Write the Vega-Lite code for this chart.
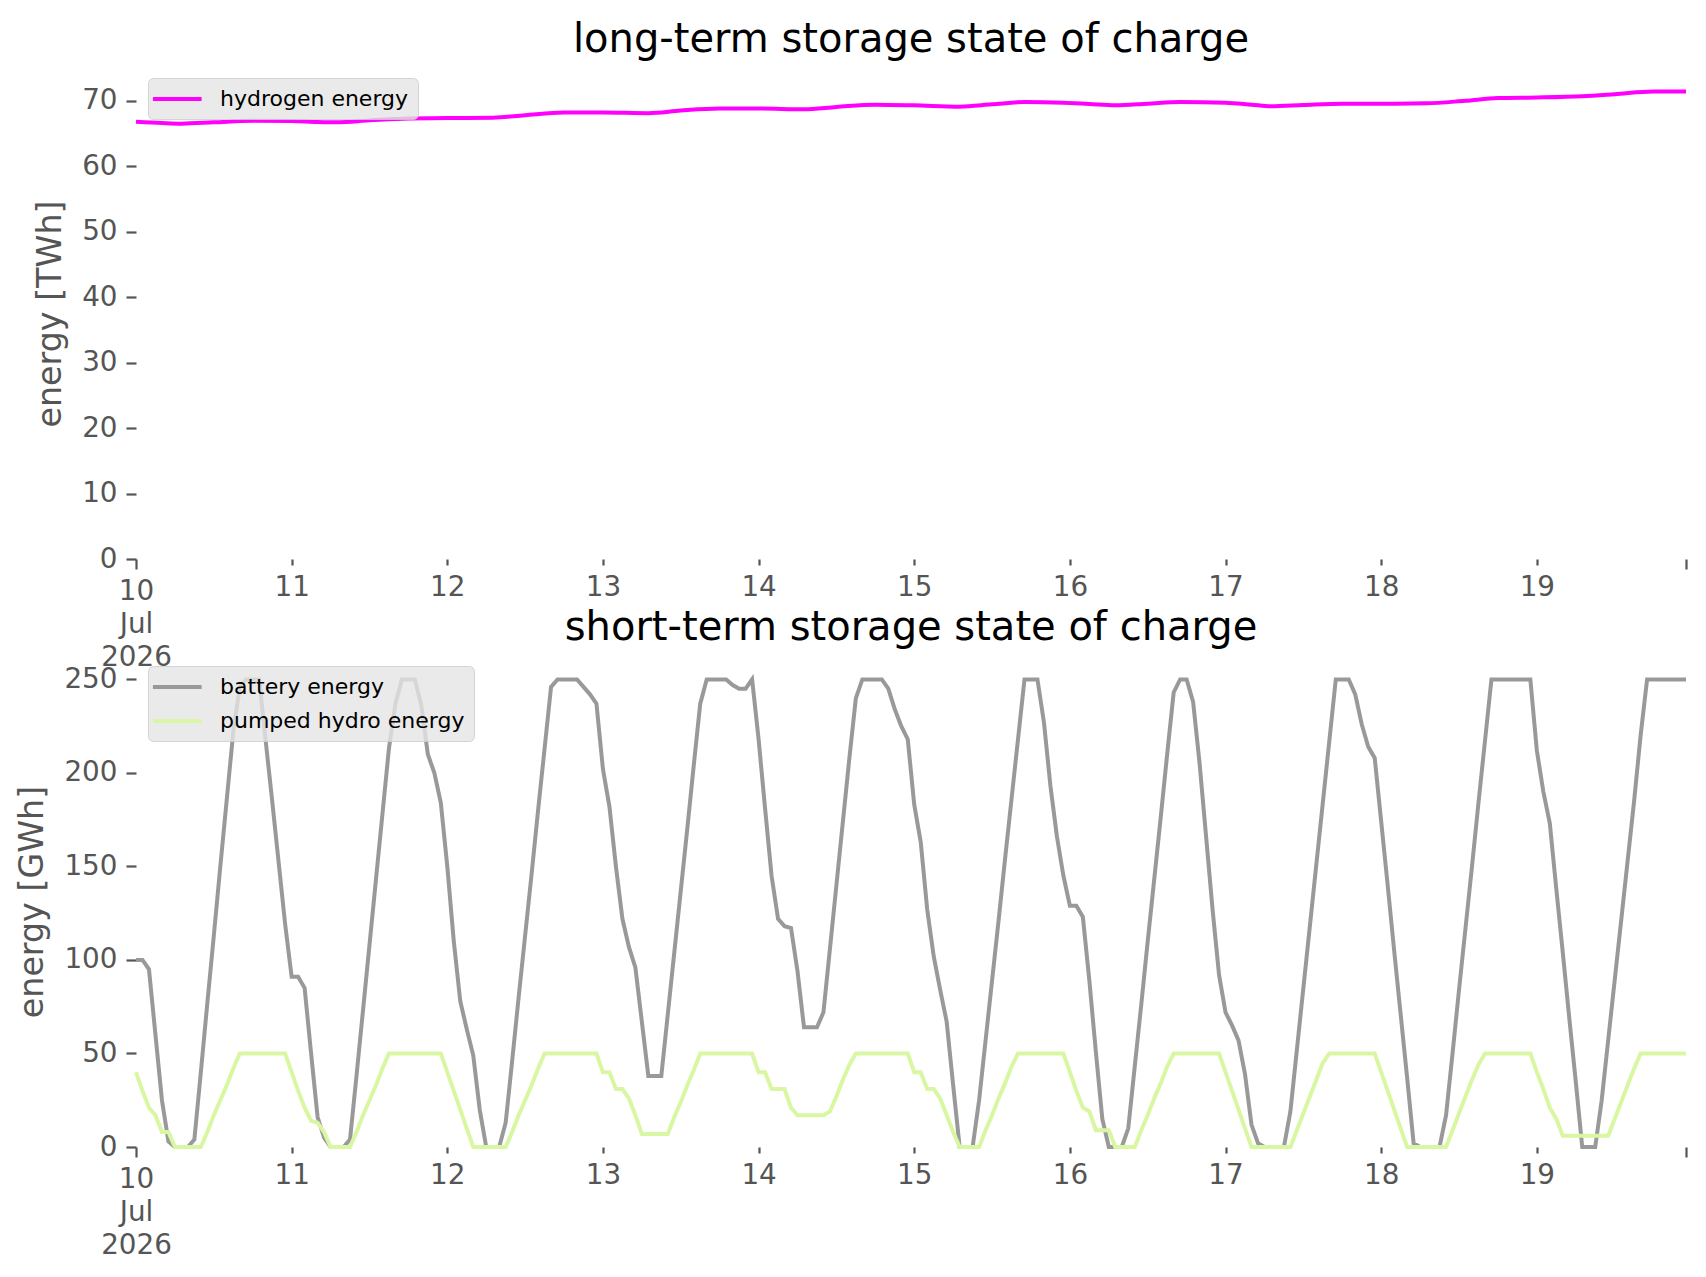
{
  "$schema": "https://vega.github.io/schema/vega-lite/v6.json",
  "background": "white",
  "padding": {"left": 15, "top": 20, "right": 10, "bottom": 10},
  "bounds": "flush",
  "spacing": 97,
  "resolve": {"scale": {"color": "independent"}, "legend": {"color": "independent"}},
  "datasets": {
    "long": [
      {"t": "2026-07-10T00:00", "hydrogen energy": 66.8},
      {"t": "2026-07-10T04:00", "hydrogen energy": 66.6},
      {"t": "2026-07-10T07:00", "hydrogen energy": 66.5},
      {"t": "2026-07-10T12:00", "hydrogen energy": 66.7},
      {"t": "2026-07-10T18:00", "hydrogen energy": 66.95},
      {"t": "2026-07-11T00:00", "hydrogen energy": 66.9},
      {"t": "2026-07-11T04:00", "hydrogen energy": 66.75},
      {"t": "2026-07-11T07:00", "hydrogen energy": 66.7},
      {"t": "2026-07-11T12:00", "hydrogen energy": 67.0},
      {"t": "2026-07-11T18:00", "hydrogen energy": 67.3},
      {"t": "2026-07-12T00:00", "hydrogen energy": 67.35},
      {"t": "2026-07-12T07:00", "hydrogen energy": 67.4},
      {"t": "2026-07-12T12:00", "hydrogen energy": 67.8},
      {"t": "2026-07-12T18:00", "hydrogen energy": 68.2},
      {"t": "2026-07-13T00:00", "hydrogen energy": 68.2},
      {"t": "2026-07-13T07:00", "hydrogen energy": 68.1},
      {"t": "2026-07-13T12:00", "hydrogen energy": 68.5},
      {"t": "2026-07-13T18:00", "hydrogen energy": 68.8},
      {"t": "2026-07-14T00:00", "hydrogen energy": 68.8},
      {"t": "2026-07-14T07:00", "hydrogen energy": 68.7},
      {"t": "2026-07-14T12:00", "hydrogen energy": 69.05},
      {"t": "2026-07-14T18:00", "hydrogen energy": 69.4},
      {"t": "2026-07-15T00:00", "hydrogen energy": 69.3},
      {"t": "2026-07-15T07:00", "hydrogen energy": 69.1},
      {"t": "2026-07-15T12:00", "hydrogen energy": 69.45},
      {"t": "2026-07-15T17:00", "hydrogen energy": 69.8},
      {"t": "2026-07-15T23:00", "hydrogen energy": 69.7},
      {"t": "2026-07-16T03:00", "hydrogen energy": 69.5},
      {"t": "2026-07-16T07:00", "hydrogen energy": 69.3},
      {"t": "2026-07-16T12:00", "hydrogen energy": 69.55},
      {"t": "2026-07-16T17:00", "hydrogen energy": 69.8},
      {"t": "2026-07-17T00:00", "hydrogen energy": 69.7},
      {"t": "2026-07-17T04:00", "hydrogen energy": 69.4},
      {"t": "2026-07-17T07:00", "hydrogen energy": 69.15},
      {"t": "2026-07-17T12:00", "hydrogen energy": 69.35},
      {"t": "2026-07-17T18:00", "hydrogen energy": 69.55},
      {"t": "2026-07-18T00:00", "hydrogen energy": 69.55},
      {"t": "2026-07-18T07:00", "hydrogen energy": 69.6},
      {"t": "2026-07-18T13:00", "hydrogen energy": 70.0},
      {"t": "2026-07-18T18:00", "hydrogen energy": 70.4},
      {"t": "2026-07-19T00:00", "hydrogen energy": 70.5},
      {"t": "2026-07-19T07:00", "hydrogen energy": 70.7},
      {"t": "2026-07-19T12:00", "hydrogen energy": 71.0},
      {"t": "2026-07-19T18:00", "hydrogen energy": 71.4},
      {"t": "2026-07-19T23:00", "hydrogen energy": 71.4}
    ],
    "short": [
      {"t": "2026-07-10T00:00", "battery energy": 100, "pumped hydro energy": 40},
      {"t": "2026-07-10T01:00", "battery energy": 100, "pumped hydro energy": 30},
      {"t": "2026-07-10T02:00", "battery energy": 95, "pumped hydro energy": 21},
      {"t": "2026-07-10T03:00", "battery energy": 60, "pumped hydro energy": 17},
      {"t": "2026-07-10T04:00", "battery energy": 25, "pumped hydro energy": 8},
      {"t": "2026-07-10T05:00", "battery energy": 3, "pumped hydro energy": 8},
      {"t": "2026-07-10T06:00", "battery energy": 0, "pumped hydro energy": 0},
      {"t": "2026-07-10T07:00", "battery energy": 0, "pumped hydro energy": 0},
      {"t": "2026-07-10T08:00", "battery energy": 0, "pumped hydro energy": 0},
      {"t": "2026-07-10T09:00", "battery energy": 4, "pumped hydro energy": 0},
      {"t": "2026-07-10T10:00", "battery energy": 40, "pumped hydro energy": 0},
      {"t": "2026-07-10T11:00", "battery energy": 77, "pumped hydro energy": 8},
      {"t": "2026-07-10T12:00", "battery energy": 113, "pumped hydro energy": 17},
      {"t": "2026-07-10T13:00", "battery energy": 150, "pumped hydro energy": 25},
      {"t": "2026-07-10T14:00", "battery energy": 186, "pumped hydro energy": 33},
      {"t": "2026-07-10T15:00", "battery energy": 222, "pumped hydro energy": 42},
      {"t": "2026-07-10T16:00", "battery energy": 246, "pumped hydro energy": 50},
      {"t": "2026-07-10T17:00", "battery energy": 250, "pumped hydro energy": 50},
      {"t": "2026-07-10T18:00", "battery energy": 250, "pumped hydro energy": 50},
      {"t": "2026-07-10T19:00", "battery energy": 250, "pumped hydro energy": 50},
      {"t": "2026-07-10T20:00", "battery energy": 217, "pumped hydro energy": 50},
      {"t": "2026-07-10T21:00", "battery energy": 185, "pumped hydro energy": 50},
      {"t": "2026-07-10T22:00", "battery energy": 152, "pumped hydro energy": 50},
      {"t": "2026-07-10T23:00", "battery energy": 119, "pumped hydro energy": 50},
      {"t": "2026-07-11T00:00", "battery energy": 91, "pumped hydro energy": 40},
      {"t": "2026-07-11T01:00", "battery energy": 91, "pumped hydro energy": 30},
      {"t": "2026-07-11T02:00", "battery energy": 85, "pumped hydro energy": 21},
      {"t": "2026-07-11T03:00", "battery energy": 50, "pumped hydro energy": 14},
      {"t": "2026-07-11T04:00", "battery energy": 16, "pumped hydro energy": 13},
      {"t": "2026-07-11T05:00", "battery energy": 5, "pumped hydro energy": 8},
      {"t": "2026-07-11T06:00", "battery energy": 0, "pumped hydro energy": 0},
      {"t": "2026-07-11T07:00", "battery energy": 0, "pumped hydro energy": 0},
      {"t": "2026-07-11T08:00", "battery energy": 0, "pumped hydro energy": 0},
      {"t": "2026-07-11T09:00", "battery energy": 4, "pumped hydro energy": 0},
      {"t": "2026-07-11T10:00", "battery energy": 38, "pumped hydro energy": 8},
      {"t": "2026-07-11T11:00", "battery energy": 73, "pumped hydro energy": 17},
      {"t": "2026-07-11T12:00", "battery energy": 108, "pumped hydro energy": 25},
      {"t": "2026-07-11T13:00", "battery energy": 143, "pumped hydro energy": 33},
      {"t": "2026-07-11T14:00", "battery energy": 178, "pumped hydro energy": 42},
      {"t": "2026-07-11T15:00", "battery energy": 213, "pumped hydro energy": 50},
      {"t": "2026-07-11T16:00", "battery energy": 237, "pumped hydro energy": 50},
      {"t": "2026-07-11T17:00", "battery energy": 250, "pumped hydro energy": 50},
      {"t": "2026-07-11T18:00", "battery energy": 250, "pumped hydro energy": 50},
      {"t": "2026-07-11T19:00", "battery energy": 250, "pumped hydro energy": 50},
      {"t": "2026-07-11T20:00", "battery energy": 236, "pumped hydro energy": 50},
      {"t": "2026-07-11T21:00", "battery energy": 210, "pumped hydro energy": 50},
      {"t": "2026-07-11T22:00", "battery energy": 200, "pumped hydro energy": 50},
      {"t": "2026-07-11T23:00", "battery energy": 184, "pumped hydro energy": 50},
      {"t": "2026-07-12T00:00", "battery energy": 150, "pumped hydro energy": 40},
      {"t": "2026-07-12T01:00", "battery energy": 110, "pumped hydro energy": 30},
      {"t": "2026-07-12T02:00", "battery energy": 78, "pumped hydro energy": 20},
      {"t": "2026-07-12T03:00", "battery energy": 63, "pumped hydro energy": 10},
      {"t": "2026-07-12T04:00", "battery energy": 49, "pumped hydro energy": 0},
      {"t": "2026-07-12T05:00", "battery energy": 20, "pumped hydro energy": 0},
      {"t": "2026-07-12T06:00", "battery energy": 0, "pumped hydro energy": 0},
      {"t": "2026-07-12T07:00", "battery energy": 0, "pumped hydro energy": 0},
      {"t": "2026-07-12T08:00", "battery energy": 0, "pumped hydro energy": 0},
      {"t": "2026-07-12T09:00", "battery energy": 13, "pumped hydro energy": 0},
      {"t": "2026-07-12T10:00", "battery energy": 46, "pumped hydro energy": 8},
      {"t": "2026-07-12T11:00", "battery energy": 80, "pumped hydro energy": 17},
      {"t": "2026-07-12T12:00", "battery energy": 113, "pumped hydro energy": 25},
      {"t": "2026-07-12T13:00", "battery energy": 146, "pumped hydro energy": 33},
      {"t": "2026-07-12T14:00", "battery energy": 180, "pumped hydro energy": 42},
      {"t": "2026-07-12T15:00", "battery energy": 213, "pumped hydro energy": 50},
      {"t": "2026-07-12T16:00", "battery energy": 246, "pumped hydro energy": 50},
      {"t": "2026-07-12T17:00", "battery energy": 250, "pumped hydro energy": 50},
      {"t": "2026-07-12T18:00", "battery energy": 250, "pumped hydro energy": 50},
      {"t": "2026-07-12T19:00", "battery energy": 250, "pumped hydro energy": 50},
      {"t": "2026-07-12T20:00", "battery energy": 250, "pumped hydro energy": 50},
      {"t": "2026-07-12T21:00", "battery energy": 246, "pumped hydro energy": 50},
      {"t": "2026-07-12T22:00", "battery energy": 242, "pumped hydro energy": 50},
      {"t": "2026-07-12T23:00", "battery energy": 237, "pumped hydro energy": 50},
      {"t": "2026-07-13T00:00", "battery energy": 202, "pumped hydro energy": 40},
      {"t": "2026-07-13T01:00", "battery energy": 182, "pumped hydro energy": 40},
      {"t": "2026-07-13T02:00", "battery energy": 150, "pumped hydro energy": 31},
      {"t": "2026-07-13T03:00", "battery energy": 122, "pumped hydro energy": 31},
      {"t": "2026-07-13T04:00", "battery energy": 107, "pumped hydro energy": 26},
      {"t": "2026-07-13T05:00", "battery energy": 96, "pumped hydro energy": 17},
      {"t": "2026-07-13T06:00", "battery energy": 67, "pumped hydro energy": 7},
      {"t": "2026-07-13T07:00", "battery energy": 38, "pumped hydro energy": 7},
      {"t": "2026-07-13T08:00", "battery energy": 38, "pumped hydro energy": 7},
      {"t": "2026-07-13T09:00", "battery energy": 38, "pumped hydro energy": 7},
      {"t": "2026-07-13T10:00", "battery energy": 71, "pumped hydro energy": 7},
      {"t": "2026-07-13T11:00", "battery energy": 104, "pumped hydro energy": 16},
      {"t": "2026-07-13T12:00", "battery energy": 137, "pumped hydro energy": 24},
      {"t": "2026-07-13T13:00", "battery energy": 170, "pumped hydro energy": 33},
      {"t": "2026-07-13T14:00", "battery energy": 204, "pumped hydro energy": 41},
      {"t": "2026-07-13T15:00", "battery energy": 237, "pumped hydro energy": 50},
      {"t": "2026-07-13T16:00", "battery energy": 250, "pumped hydro energy": 50},
      {"t": "2026-07-13T17:00", "battery energy": 250, "pumped hydro energy": 50},
      {"t": "2026-07-13T18:00", "battery energy": 250, "pumped hydro energy": 50},
      {"t": "2026-07-13T19:00", "battery energy": 250, "pumped hydro energy": 50},
      {"t": "2026-07-13T20:00", "battery energy": 247, "pumped hydro energy": 50},
      {"t": "2026-07-13T21:00", "battery energy": 245, "pumped hydro energy": 50},
      {"t": "2026-07-13T22:00", "battery energy": 245, "pumped hydro energy": 50},
      {"t": "2026-07-13T23:00", "battery energy": 250, "pumped hydro energy": 50},
      {"t": "2026-07-14T00:00", "battery energy": 218, "pumped hydro energy": 40},
      {"t": "2026-07-14T01:00", "battery energy": 181, "pumped hydro energy": 40},
      {"t": "2026-07-14T02:00", "battery energy": 145, "pumped hydro energy": 31},
      {"t": "2026-07-14T03:00", "battery energy": 122, "pumped hydro energy": 31},
      {"t": "2026-07-14T04:00", "battery energy": 118, "pumped hydro energy": 31},
      {"t": "2026-07-14T05:00", "battery energy": 117, "pumped hydro energy": 21},
      {"t": "2026-07-14T06:00", "battery energy": 94, "pumped hydro energy": 17},
      {"t": "2026-07-14T07:00", "battery energy": 64, "pumped hydro energy": 17},
      {"t": "2026-07-14T08:00", "battery energy": 64, "pumped hydro energy": 17},
      {"t": "2026-07-14T09:00", "battery energy": 64, "pumped hydro energy": 17},
      {"t": "2026-07-14T10:00", "battery energy": 72, "pumped hydro energy": 17},
      {"t": "2026-07-14T11:00", "battery energy": 106, "pumped hydro energy": 19},
      {"t": "2026-07-14T12:00", "battery energy": 140, "pumped hydro energy": 27},
      {"t": "2026-07-14T13:00", "battery energy": 174, "pumped hydro energy": 36},
      {"t": "2026-07-14T14:00", "battery energy": 208, "pumped hydro energy": 44},
      {"t": "2026-07-14T15:00", "battery energy": 240, "pumped hydro energy": 50},
      {"t": "2026-07-14T16:00", "battery energy": 250, "pumped hydro energy": 50},
      {"t": "2026-07-14T17:00", "battery energy": 250, "pumped hydro energy": 50},
      {"t": "2026-07-14T18:00", "battery energy": 250, "pumped hydro energy": 50},
      {"t": "2026-07-14T19:00", "battery energy": 250, "pumped hydro energy": 50},
      {"t": "2026-07-14T20:00", "battery energy": 245, "pumped hydro energy": 50},
      {"t": "2026-07-14T21:00", "battery energy": 234, "pumped hydro energy": 50},
      {"t": "2026-07-14T22:00", "battery energy": 225, "pumped hydro energy": 50},
      {"t": "2026-07-14T23:00", "battery energy": 218, "pumped hydro energy": 50},
      {"t": "2026-07-15T00:00", "battery energy": 183, "pumped hydro energy": 40},
      {"t": "2026-07-15T01:00", "battery energy": 163, "pumped hydro energy": 40},
      {"t": "2026-07-15T02:00", "battery energy": 127, "pumped hydro energy": 31},
      {"t": "2026-07-15T03:00", "battery energy": 102, "pumped hydro energy": 31},
      {"t": "2026-07-15T04:00", "battery energy": 84, "pumped hydro energy": 26},
      {"t": "2026-07-15T05:00", "battery energy": 67, "pumped hydro energy": 17},
      {"t": "2026-07-15T06:00", "battery energy": 33, "pumped hydro energy": 8},
      {"t": "2026-07-15T07:00", "battery energy": 0, "pumped hydro energy": 0},
      {"t": "2026-07-15T08:00", "battery energy": 0, "pumped hydro energy": 0},
      {"t": "2026-07-15T09:00", "battery energy": 0, "pumped hydro energy": 0},
      {"t": "2026-07-15T10:00", "battery energy": 25, "pumped hydro energy": 0},
      {"t": "2026-07-15T11:00", "battery energy": 57, "pumped hydro energy": 9},
      {"t": "2026-07-15T12:00", "battery energy": 89, "pumped hydro energy": 17},
      {"t": "2026-07-15T13:00", "battery energy": 121, "pumped hydro energy": 26},
      {"t": "2026-07-15T14:00", "battery energy": 154, "pumped hydro energy": 34},
      {"t": "2026-07-15T15:00", "battery energy": 186, "pumped hydro energy": 43},
      {"t": "2026-07-15T16:00", "battery energy": 218, "pumped hydro energy": 50},
      {"t": "2026-07-15T17:00", "battery energy": 250, "pumped hydro energy": 50},
      {"t": "2026-07-15T18:00", "battery energy": 250, "pumped hydro energy": 50},
      {"t": "2026-07-15T19:00", "battery energy": 250, "pumped hydro energy": 50},
      {"t": "2026-07-15T20:00", "battery energy": 227, "pumped hydro energy": 50},
      {"t": "2026-07-15T21:00", "battery energy": 193, "pumped hydro energy": 50},
      {"t": "2026-07-15T22:00", "battery energy": 166, "pumped hydro energy": 50},
      {"t": "2026-07-15T23:00", "battery energy": 145, "pumped hydro energy": 50},
      {"t": "2026-07-16T00:00", "battery energy": 129, "pumped hydro energy": 40},
      {"t": "2026-07-16T01:00", "battery energy": 129, "pumped hydro energy": 30},
      {"t": "2026-07-16T02:00", "battery energy": 123, "pumped hydro energy": 21},
      {"t": "2026-07-16T03:00", "battery energy": 89, "pumped hydro energy": 19},
      {"t": "2026-07-16T04:00", "battery energy": 51, "pumped hydro energy": 9},
      {"t": "2026-07-16T05:00", "battery energy": 15, "pumped hydro energy": 9},
      {"t": "2026-07-16T06:00", "battery energy": 0, "pumped hydro energy": 9},
      {"t": "2026-07-16T07:00", "battery energy": 0, "pumped hydro energy": 0},
      {"t": "2026-07-16T08:00", "battery energy": 0, "pumped hydro energy": 0},
      {"t": "2026-07-16T09:00", "battery energy": 10, "pumped hydro energy": 0},
      {"t": "2026-07-16T10:00", "battery energy": 43, "pumped hydro energy": 0},
      {"t": "2026-07-16T11:00", "battery energy": 76, "pumped hydro energy": 9},
      {"t": "2026-07-16T12:00", "battery energy": 110, "pumped hydro energy": 17},
      {"t": "2026-07-16T13:00", "battery energy": 143, "pumped hydro energy": 26},
      {"t": "2026-07-16T14:00", "battery energy": 176, "pumped hydro energy": 34},
      {"t": "2026-07-16T15:00", "battery energy": 210, "pumped hydro energy": 43},
      {"t": "2026-07-16T16:00", "battery energy": 243, "pumped hydro energy": 50},
      {"t": "2026-07-16T17:00", "battery energy": 250, "pumped hydro energy": 50},
      {"t": "2026-07-16T18:00", "battery energy": 250, "pumped hydro energy": 50},
      {"t": "2026-07-16T19:00", "battery energy": 238, "pumped hydro energy": 50},
      {"t": "2026-07-16T20:00", "battery energy": 205, "pumped hydro energy": 50},
      {"t": "2026-07-16T21:00", "battery energy": 166, "pumped hydro energy": 50},
      {"t": "2026-07-16T22:00", "battery energy": 127, "pumped hydro energy": 50},
      {"t": "2026-07-16T23:00", "battery energy": 92, "pumped hydro energy": 50},
      {"t": "2026-07-17T00:00", "battery energy": 72, "pumped hydro energy": 40},
      {"t": "2026-07-17T01:00", "battery energy": 65, "pumped hydro energy": 30},
      {"t": "2026-07-17T02:00", "battery energy": 57, "pumped hydro energy": 20},
      {"t": "2026-07-17T03:00", "battery energy": 39, "pumped hydro energy": 10},
      {"t": "2026-07-17T04:00", "battery energy": 12, "pumped hydro energy": 0},
      {"t": "2026-07-17T05:00", "battery energy": 2, "pumped hydro energy": 0},
      {"t": "2026-07-17T06:00", "battery energy": 0, "pumped hydro energy": 0},
      {"t": "2026-07-17T07:00", "battery energy": 0, "pumped hydro energy": 0},
      {"t": "2026-07-17T08:00", "battery energy": 0, "pumped hydro energy": 0},
      {"t": "2026-07-17T09:00", "battery energy": 0, "pumped hydro energy": 0},
      {"t": "2026-07-17T10:00", "battery energy": 19, "pumped hydro energy": 0},
      {"t": "2026-07-17T11:00", "battery energy": 52, "pumped hydro energy": 9},
      {"t": "2026-07-17T12:00", "battery energy": 85, "pumped hydro energy": 18},
      {"t": "2026-07-17T13:00", "battery energy": 118, "pumped hydro energy": 27},
      {"t": "2026-07-17T14:00", "battery energy": 151, "pumped hydro energy": 36},
      {"t": "2026-07-17T15:00", "battery energy": 184, "pumped hydro energy": 45},
      {"t": "2026-07-17T16:00", "battery energy": 217, "pumped hydro energy": 50},
      {"t": "2026-07-17T17:00", "battery energy": 250, "pumped hydro energy": 50},
      {"t": "2026-07-17T18:00", "battery energy": 250, "pumped hydro energy": 50},
      {"t": "2026-07-17T19:00", "battery energy": 250, "pumped hydro energy": 50},
      {"t": "2026-07-17T20:00", "battery energy": 242, "pumped hydro energy": 50},
      {"t": "2026-07-17T21:00", "battery energy": 226, "pumped hydro energy": 50},
      {"t": "2026-07-17T22:00", "battery energy": 214, "pumped hydro energy": 50},
      {"t": "2026-07-17T23:00", "battery energy": 208, "pumped hydro energy": 50},
      {"t": "2026-07-18T00:00", "battery energy": 174, "pumped hydro energy": 40},
      {"t": "2026-07-18T01:00", "battery energy": 140, "pumped hydro energy": 30},
      {"t": "2026-07-18T02:00", "battery energy": 105, "pumped hydro energy": 20},
      {"t": "2026-07-18T03:00", "battery energy": 71, "pumped hydro energy": 10},
      {"t": "2026-07-18T04:00", "battery energy": 37, "pumped hydro energy": 0},
      {"t": "2026-07-18T05:00", "battery energy": 2, "pumped hydro energy": 0},
      {"t": "2026-07-18T06:00", "battery energy": 0, "pumped hydro energy": 0},
      {"t": "2026-07-18T07:00", "battery energy": 0, "pumped hydro energy": 0},
      {"t": "2026-07-18T08:00", "battery energy": 0, "pumped hydro energy": 0},
      {"t": "2026-07-18T09:00", "battery energy": 0, "pumped hydro energy": 0},
      {"t": "2026-07-18T10:00", "battery energy": 17, "pumped hydro energy": 0},
      {"t": "2026-07-18T11:00", "battery energy": 50, "pumped hydro energy": 9},
      {"t": "2026-07-18T12:00", "battery energy": 84, "pumped hydro energy": 18},
      {"t": "2026-07-18T13:00", "battery energy": 117, "pumped hydro energy": 27},
      {"t": "2026-07-18T14:00", "battery energy": 150, "pumped hydro energy": 36},
      {"t": "2026-07-18T15:00", "battery energy": 184, "pumped hydro energy": 44},
      {"t": "2026-07-18T16:00", "battery energy": 217, "pumped hydro energy": 50},
      {"t": "2026-07-18T17:00", "battery energy": 250, "pumped hydro energy": 50},
      {"t": "2026-07-18T18:00", "battery energy": 250, "pumped hydro energy": 50},
      {"t": "2026-07-18T19:00", "battery energy": 250, "pumped hydro energy": 50},
      {"t": "2026-07-18T20:00", "battery energy": 250, "pumped hydro energy": 50},
      {"t": "2026-07-18T21:00", "battery energy": 250, "pumped hydro energy": 50},
      {"t": "2026-07-18T22:00", "battery energy": 250, "pumped hydro energy": 50},
      {"t": "2026-07-18T23:00", "battery energy": 250, "pumped hydro energy": 50},
      {"t": "2026-07-19T00:00", "battery energy": 212, "pumped hydro energy": 40},
      {"t": "2026-07-19T01:00", "battery energy": 190, "pumped hydro energy": 31},
      {"t": "2026-07-19T02:00", "battery energy": 173, "pumped hydro energy": 21},
      {"t": "2026-07-19T03:00", "battery energy": 138, "pumped hydro energy": 15},
      {"t": "2026-07-19T04:00", "battery energy": 104, "pumped hydro energy": 6},
      {"t": "2026-07-19T05:00", "battery energy": 69, "pumped hydro energy": 6},
      {"t": "2026-07-19T06:00", "battery energy": 35, "pumped hydro energy": 6},
      {"t": "2026-07-19T07:00", "battery energy": 0, "pumped hydro energy": 6},
      {"t": "2026-07-19T08:00", "battery energy": 0, "pumped hydro energy": 6},
      {"t": "2026-07-19T09:00", "battery energy": 0, "pumped hydro energy": 6},
      {"t": "2026-07-19T10:00", "battery energy": 25, "pumped hydro energy": 6},
      {"t": "2026-07-19T11:00", "battery energy": 57, "pumped hydro energy": 6},
      {"t": "2026-07-19T12:00", "battery energy": 89, "pumped hydro energy": 15},
      {"t": "2026-07-19T13:00", "battery energy": 121, "pumped hydro energy": 24},
      {"t": "2026-07-19T14:00", "battery energy": 153, "pumped hydro energy": 33},
      {"t": "2026-07-19T15:00", "battery energy": 185, "pumped hydro energy": 42},
      {"t": "2026-07-19T16:00", "battery energy": 220, "pumped hydro energy": 50},
      {"t": "2026-07-19T17:00", "battery energy": 250, "pumped hydro energy": 50},
      {"t": "2026-07-19T18:00", "battery energy": 250, "pumped hydro energy": 50},
      {"t": "2026-07-19T19:00", "battery energy": 250, "pumped hydro energy": 50},
      {"t": "2026-07-19T20:00", "battery energy": 250, "pumped hydro energy": 50},
      {"t": "2026-07-19T21:00", "battery energy": 250, "pumped hydro energy": 50},
      {"t": "2026-07-19T22:00", "battery energy": 250, "pumped hydro energy": 50},
      {"t": "2026-07-19T23:00", "battery energy": 250, "pumped hydro energy": 50}
    ]
  },
  "vconcat": [
    {
      "width": 1550,
      "height": 491,
      "title": {"text": "long-term storage state of charge"},
      "data": {"name": "long"},
      "transform": [
        {"fold": ["hydrogen energy"], "as": ["carrier", "energy"]}
      ],
      "mark": {"type": "line", "strokeWidth": 4, "interpolate": "monotone"},
      "encoding": {
        "x": {
          "field": "t",
          "type": "temporal",
          "scale": {"domain": [
            {"year": 2026, "month": 7, "date": 10},
            {"year": 2026, "month": 7, "date": 19, "hours": 23}
          ]},
          "axis": {
            "title": null,
            "values": [
              {"year": 2026, "month": 7, "date": 10},
              {"year": 2026, "month": 7, "date": 11},
              {"year": 2026, "month": 7, "date": 12},
              {"year": 2026, "month": 7, "date": 13},
              {"year": 2026, "month": 7, "date": 14},
              {"year": 2026, "month": 7, "date": 15},
              {"year": 2026, "month": 7, "date": 16},
              {"year": 2026, "month": 7, "date": 17},
              {"year": 2026, "month": 7, "date": 18},
              {"year": 2026, "month": 7, "date": 19},
              {"year": 2026, "month": 7, "date": 19, "hours": 23}
            ],
            "labelExpr": "date(datum.value) == 10 ? ['10', 'Jul', '2026'] : (hours(datum.value) == 23 ? '' : '' + date(datum.value))"
          }
        },
        "y": {
          "field": "energy",
          "type": "quantitative",
          "scale": {"domain": [0, 75], "nice": false},
          "axis": {"title": "energy [TWh]", "values": [0, 10, 20, 30, 40, 50, 60, 70]}
        },
        "color": {
          "field": "carrier",
          "type": "nominal",
          "scale": {"domain": ["hydrogen energy"], "range": ["#ff00ff"]},
          "legend": {"title": null}
        }
      }
    },
    {
      "width": 1550,
      "height": 491,
      "title": {"text": "short-term storage state of charge"},
      "data": {"name": "short"},
      "transform": [
        {"fold": ["battery energy", "pumped hydro energy"], "as": ["carrier", "energy"]}
      ],
      "mark": {"type": "line", "strokeWidth": 4},
      "encoding": {
        "x": {
          "field": "t",
          "type": "temporal",
          "scale": {"domain": [
            {"year": 2026, "month": 7, "date": 10},
            {"year": 2026, "month": 7, "date": 19, "hours": 23}
          ]},
          "axis": {
            "title": null,
            "values": [
              {"year": 2026, "month": 7, "date": 10},
              {"year": 2026, "month": 7, "date": 11},
              {"year": 2026, "month": 7, "date": 12},
              {"year": 2026, "month": 7, "date": 13},
              {"year": 2026, "month": 7, "date": 14},
              {"year": 2026, "month": 7, "date": 15},
              {"year": 2026, "month": 7, "date": 16},
              {"year": 2026, "month": 7, "date": 17},
              {"year": 2026, "month": 7, "date": 18},
              {"year": 2026, "month": 7, "date": 19},
              {"year": 2026, "month": 7, "date": 19, "hours": 23}
            ],
            "labelExpr": "date(datum.value) == 10 ? ['10', 'Jul', '2026'] : (hours(datum.value) == 23 ? '' : '' + date(datum.value))"
          }
        },
        "y": {
          "field": "energy",
          "type": "quantitative",
          "scale": {"domain": [0, 262.5], "nice": false},
          "axis": {"title": "energy [GWh]", "values": [0, 50, 100, 150, 200, 250]}
        },
        "color": {
          "field": "carrier",
          "type": "nominal",
          "scale": {"domain": ["battery energy", "pumped hydro energy"], "range": ["#999999", "#d9f7a3"]},
          "legend": {"title": null}
        }
      }
    }
  ],
  "config": {
    "font": "DejaVu Sans",
    "view": {"stroke": null},
    "title": {
      "fontSize": 40,
      "fontWeight": "normal",
      "color": "#000000",
      "anchor": "middle",
      "frame": "group",
      "baseline": "alphabetic",
      "offset": 8
    },
    "axis": {
      "domain": false,
      "grid": false,
      "labelFont": "DejaVu Sans",
      "labelFontSize": 27.8,
      "labelColor": "#555555",
      "tickColor": "#555555",
      "tickWidth": 2.2,
      "titleFont": "DejaVu Sans",
      "titleFontSize": 33.3,
      "titleFontWeight": "normal",
      "titleColor": "#555555"
    },
    "axisX": {
      "tickSize": {"condition": {"test": "date(datum.value) == 10 || hours(datum.value) == 23", "value": 10}, "value": 6},
      "labelPadding": 8,
      "labelLineHeight": 33,
      "labelFlush": false,
      "labelOverlap": false,
      "labelBound": false
    },
    "axisY": {
      "tickSize": 10,
      "labelPadding": 9,
      "titlePadding": 14
    },
    "legend": {
      "orient": "none",
      "legendX": 12,
      "legendY": 10,
      "fillColor": "rgba(229,229,229,0.8)",
      "strokeColor": "rgba(204,204,204,0.8)",
      "cornerRadius": 5,
      "padding": 9,
      "rowPadding": 11,
      "labelFont": "DejaVu Sans",
      "labelFontSize": 22,
      "labelColor": "#000000",
      "labelLimit": 400,
      "labelOffset": 39,
      "symbolType": "M-1.64,0H3.33",
      "symbolSize": 384,
      "symbolStrokeWidth": 4
    }
  }
}
